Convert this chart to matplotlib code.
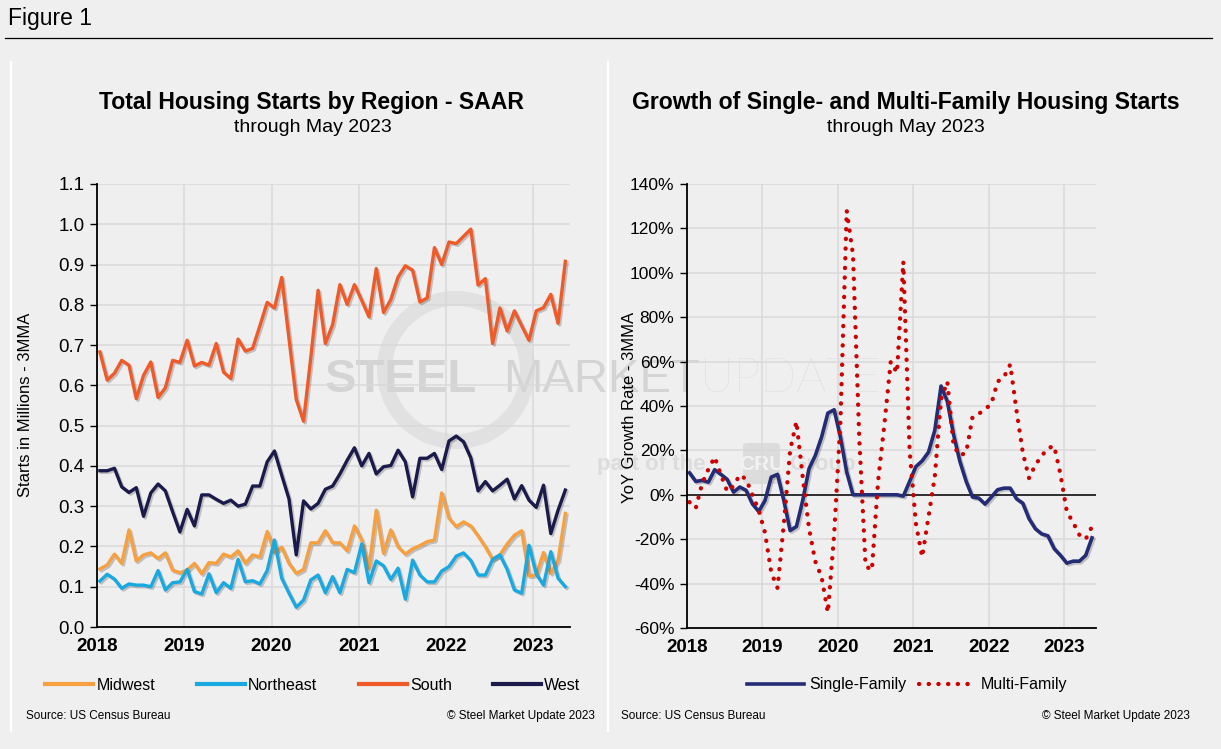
import matplotlib
matplotlib.use("Agg")
import matplotlib.pyplot as plt
import matplotlib.patheffects as pe
from matplotlib.patches import Wedge, FancyBboxPatch
from matplotlib.ticker import FuncFormatter
import numpy as np

plt.rcParams['font.family'] = ['Liberation Sans', 'DejaVu Sans']
NARROW = ['Liberation Sans Narrow', 'Liberation Sans', 'DejaVu Sans']

# Monthly data, Jan 2018 - May 2023 (3-month moving average)
start_year = 2018
n_months = 65
years = [2018, 2019, 2020, 2021, 2022, 2023]

# Housing starts by region, SAAR, millions
midwest = [0.144, 0.154, 0.181, 0.158, 0.241, 0.164, 0.179, 0.184, 0.170, 0.184, 0.141, 0.135,
           0.141, 0.158, 0.132, 0.160, 0.158, 0.181, 0.174, 0.189, 0.158, 0.179, 0.174, 0.237,
           0.185, 0.198, 0.158, 0.133, 0.143, 0.209, 0.209, 0.239, 0.209, 0.209, 0.189, 0.251,
           0.216, 0.146, 0.290, 0.183, 0.241, 0.199, 0.181, 0.194, 0.202, 0.212, 0.216, 0.333,
           0.270, 0.249, 0.261, 0.251, 0.226, 0.199, 0.168, 0.179, 0.206, 0.228, 0.239, 0.127,
           0.129, 0.185, 0.133, 0.166, 0.282]
northeast = [0.114, 0.131, 0.119, 0.096, 0.107, 0.104, 0.104, 0.100, 0.140, 0.092, 0.110, 0.112,
             0.143, 0.088, 0.082, 0.132, 0.085, 0.110, 0.096, 0.168, 0.112, 0.115, 0.107, 0.140,
             0.216, 0.121, 0.084, 0.049, 0.067, 0.117, 0.129, 0.085, 0.125, 0.085, 0.143, 0.135,
             0.206, 0.110, 0.164, 0.152, 0.118, 0.146, 0.069, 0.166, 0.129, 0.112, 0.112, 0.139,
             0.150, 0.176, 0.184, 0.165, 0.129, 0.129, 0.168, 0.179, 0.143, 0.092, 0.084, 0.203,
             0.132, 0.104, 0.187, 0.121, 0.100]
south = [0.683, 0.613, 0.630, 0.662, 0.650, 0.567, 0.625, 0.658, 0.570, 0.594, 0.662, 0.657,
         0.712, 0.648, 0.657, 0.650, 0.704, 0.633, 0.617, 0.715, 0.685, 0.692, 0.748, 0.806,
         0.792, 0.868, 0.716, 0.565, 0.511, 0.670, 0.836, 0.704, 0.751, 0.850, 0.801, 0.850,
         0.811, 0.770, 0.890, 0.781, 0.813, 0.869, 0.897, 0.886, 0.807, 0.817, 0.942, 0.900,
         0.956, 0.952, 0.970, 0.988, 0.849, 0.865, 0.704, 0.792, 0.735, 0.785, 0.748, 0.712,
         0.785, 0.793, 0.826, 0.754, 0.908]
west = [0.388, 0.388, 0.394, 0.348, 0.334, 0.346, 0.275, 0.333, 0.355, 0.338, 0.286, 0.236,
        0.292, 0.251, 0.328, 0.328, 0.317, 0.307, 0.315, 0.300, 0.305, 0.350, 0.350, 0.410,
        0.437, 0.377, 0.318, 0.179, 0.313, 0.293, 0.307, 0.342, 0.350, 0.380, 0.414, 0.445,
        0.400, 0.431, 0.380, 0.398, 0.401, 0.439, 0.410, 0.323, 0.419, 0.419, 0.431, 0.391,
        0.462, 0.474, 0.460, 0.420, 0.338, 0.361, 0.338, 0.352, 0.367, 0.318, 0.351, 0.315,
        0.297, 0.352, 0.232, 0.290, 0.340]

# YoY growth rate, %
single_family = [9.9, 6.0, 6.5, 5.7, 11.3, 9.2, 6.9, 1.2, 3.5, 2.0, -4.1, -7.5,
                 -2.6, 8.0, 9.2, -2.6, -16.1, -14.3, -2.6, 11.7, 17.7, 26.0, 36.8, 38.3,
                 26.0, 10.2, 0.0, 0.0, 0.0, 0.0, 0.0, 0.0, 0.0, 0.0, -0.6, 6.0,
                 12.7, 15.3, 19.2, 29.0, 49.0, 42.0, 27.0, 15.0, 6.0, -1.0, -1.5, -4.2,
                 -1.0, 2.3, 3.0, 3.0, -1.8, -3.8, -10.8, -15.3, -17.6, -18.5, -24.3, -27.3,
                 -30.8, -29.9, -29.9, -27.3, -19.4]
multi_family = [-3.3, -6.0, 5.0, 11.5, 17.0, 9.0, 1.5, 4.0, 9.0, 7.0, 0.0, -7.0,
                -17.0, -35.0, -42.0, -13.0, 20.0, 33.0, 8.0, -15.0, -30.0, -37.0, -53.0, -18.0,
                33.0, 128.0, 108.0, 25.0, -32.0, -34.0, 6.5, 32.0, 60.0, 55.0, 105.0, 20.0,
                -13.0, -28.0, -10.0, 8.0, 43.0, 51.0, 22.0, 17.7, 19.0, 35.0, 36.5, 38.5,
                41.0, 51.0, 53.0, 58.7, 38.0, 19.0, 7.5, 13.5, 17.5, 21.0, 22.0, 9.0,
                -7.5, -12.5, -18.0, -20.0, -14.3]

# x position of each month (slightly past the start of the month, like the source)
x = start_year + (np.arange(n_months) + 0.4) / 12

BG = '#EFEFEF'
GRID = '#D9D9D9'
shadow = [pe.SimpleLineShadow(offset=(1.2, -1.2), shadow_color='k', alpha=0.2), pe.Normal()]

fig = plt.figure(figsize=(12.21, 7.49), dpi=100, facecolor=BG)

# background layer in pixel coordinates: header, panels, watermark, notes
bg = fig.add_axes([0, 0, 1, 1], zorder=0)
bg.set_xlim(0, 1221)
bg.set_ylim(749, 0)
bg.axis('off')

bg.text(8, 19, 'Figure 1', fontsize=16.5, ha='left', va='center')
bg.plot([5, 1212], [37.5, 37.5], color='black', lw=0.9)
bg.plot([11, 11], [62, 731], color='white', lw=1.6)
bg.plot([608, 608], [62, 731], color='white', lw=1.6)

# watermark
wm = '#D4D4D4'
bg.add_patch(Wedge((456, 370), 79, 0, 360, width=15, facecolor='#E1E1E1', edgecolor='none'))
bg.text(325, 392, 'STEEL', fontsize=34, fontweight='bold', color=wm, ha='left', va='baseline')
bg.text(503, 392, 'MARKET', fontsize=34, color=wm, ha='left', va='baseline')
bg.text(700, 392, 'UPDATE', fontsize=34, color='#DCDCDC', ha='left', va='baseline',
        family=['Lato', 'Liberation Sans'], fontweight='light')
bg.text(597, 470, 'part of the', fontsize=16, fontweight='bold', color='#DCDCDC',
        ha='left', va='baseline')
bg.add_patch(FancyBboxPatch((743, 443), 37, 41, boxstyle='round,pad=0,rounding_size=4',
                            facecolor='#DCDCDC', edgecolor='none'))
bg.text(761.5, 464, 'CRU', fontsize=15, fontweight='bold', color='#F2F2F2',
        ha='center', va='center', family=NARROW)
bg.text(789, 470, 'Group', fontsize=16, fontweight='bold', color='#DCDCDC',
        ha='left', va='baseline')

# titles
bg.text(311, 102, 'Total Housing Starts by Region - SAAR', fontsize=16.6,
        fontweight='bold', ha='center', va='center')
bg.text(313, 127, 'through May 2023', fontsize=14, ha='center', va='center')
bg.text(906, 102, 'Growth of Single- and Multi-Family Housing Starts', fontsize=16.6,
        fontweight='bold', ha='center', va='center')
bg.text(906, 127, 'through May 2023', fontsize=14, ha='center', va='center')

# axis titles
bg.text(26, 405, 'Starts in Millions - 3MMA', fontsize=12, rotation=90,
        ha='center', va='center')
bg.text(630, 407, 'YoY Growth Rate - 3MMA', fontsize=12, rotation=90,
        ha='center', va='center')

# notes
for xl, xr in [(26, 595), (621, 1190)]:
    bg.text(xl, 716, 'Source: US Census Bureau', fontsize=8.5, family=NARROW,
            ha='left', va='center')
    bg.text(xr, 716, '\u00a9 Steel Market Update 2023', fontsize=8.5, family=NARROW,
            ha='right', va='center')


def style_axes(ax):
    ax.set_facecolor('none')
    ax.set_xlim(2018, 2023.42)
    ax.set_xticks(years)
    ax.set_xticklabels([str(y) for y in years], fontweight='bold', fontsize=13.5)
    ax.grid(True, color=GRID, lw=1.1)
    ax.set_axisbelow(True)
    for s in ['top', 'right']:
        ax.spines[s].set_visible(False)
    for s in ['left', 'bottom']:
        ax.spines[s].set_color('black')
        ax.spines[s].set_linewidth(1.3)
    ax.tick_params(axis='x', length=0, pad=8)
    ax.tick_params(axis='y', length=5, width=1, direction='out', pad=4)


# left chart
ax1 = fig.add_axes([97 / 1221, 122 / 749, 473 / 1221, 443 / 749], zorder=1)
style_axes(ax1)
ax1.set_ylim(0, 1.1)
ax1.set_yticks(np.round(np.arange(0, 1.15, 0.1), 1))
ax1.yaxis.set_major_formatter(FuncFormatter(lambda v, p: f'{v:.1f}'))
ax1.tick_params(axis='y', labelsize=13.5)

region_series = [('Midwest', midwest, '#F7A040'),
                 ('Northeast', northeast, '#19A9E1'),
                 ('South', south, '#F05A28'),
                 ('West', west, '#1B1B4B')]
for name, vals, col in region_series:
    ax1.plot(x, vals, color=col, lw=2.4, label=name, path_effects=shadow,
             solid_joinstyle='round')

leg1 = ax1.legend(loc='center', bbox_to_anchor=(313 / 1221, 1 - 685 / 749),
                  bbox_transform=fig.transFigure, ncol=4, frameon=False,
                  handlelength=3.0, handletextpad=0.2, columnspacing=2.6,
                  prop={'family': NARROW, 'size': 11.5})
for h in leg1.get_lines():
    h.set_path_effects([])
    h.set_linewidth(3)

# right chart
ax2 = fig.add_axes([687 / 1221, 121 / 749, 409 / 1221, 444 / 749], zorder=1)
style_axes(ax2)
ax2.set_ylim(-60, 140)
ax2.set_yticks(np.arange(-60, 141, 20))
ax2.yaxis.set_major_formatter(FuncFormatter(lambda v, p: f'{v:.0f}%'))
ax2.tick_params(axis='y', labelsize=12.5)
ax2.axhline(0, color='black', lw=1.1, zorder=1.5)

ax2.plot(x, single_family, color='#232C74', lw=2.6, label='Single-Family',
         path_effects=shadow, solid_joinstyle='round')
ax2.plot(x, multi_family, color='#CC0000', lw=3.1, label='Multi-Family',
         linestyle=(0, (0.05, 2.2)), dash_capstyle='round')

leg2 = ax2.legend(loc='center', bbox_to_anchor=(907 / 1221, 1 - 685 / 749),
                  bbox_transform=fig.transFigure, ncol=2, frameon=False,
                  handlelength=3.6, handletextpad=0.3, columnspacing=0.8,
                  prop={'family': NARROW, 'size': 11.5})
for h in leg2.get_lines():
    h.set_path_effects([])

fig.savefig('out.png', dpi=100, facecolor=BG)
